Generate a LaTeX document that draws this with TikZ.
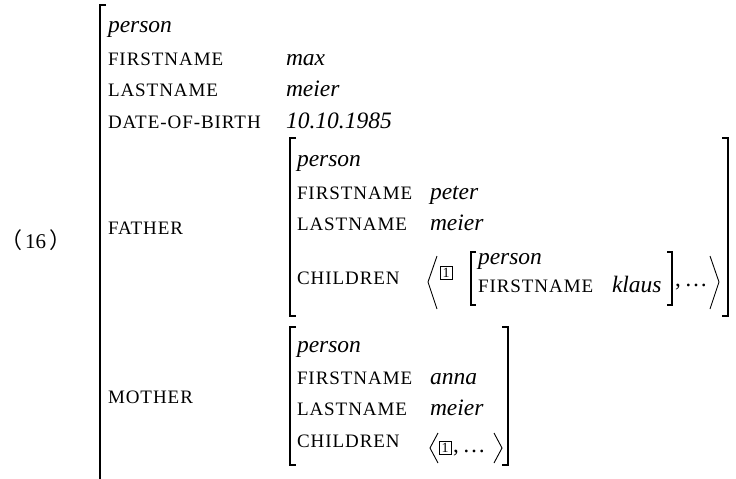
\documentclass[tikz,border=0pt]{standalone}
\usepackage{fontspec}
\setmainfont{Liberation Serif}
\newfontfamily\capsfont[LetterSpace=5]{Liberation Serif}
\newfontfamily\cjk{Noto Sans CJK SC}
\begin{document}
\begin{tikzpicture}[x=1pt,y=-1pt,
  base/.style={anchor=base west, inner sep=0pt, outer sep=0pt},
  attr/.style={base, font=\capsfont\fontsize{19}{23}\selectfont},
  val/.style={base, font=\fontsize{23.5}{27}\selectfont\itshape},
  brk/.style={line width=1.3pt},
  ang/.style={line width=0.9pt},
  tag/.style={draw, line width=0.6pt, inner sep=0pt, minimum width=12pt, minimum height=13pt, font=\fontsize{14}{16}\selectfont}
]
\useasboundingbox (0,0) rectangle (736,479);

% example number
\node[base, font=\fontsize{21}{25}\selectfont] (num) at (0,248)
  {{\cjk\fontsize{22}{26}\selectfont （}\kern3pt 16\kern3pt{\cjk\fontsize{22}{26}\selectfont ）}};

% outer AVM
\draw[brk] (106,5) -- (100,5) -- (100,485);
\node[val]  (p0)  at (108,32) {person};
\node[attr] (fn0) at (108,65) {FIRSTNAME};
\node[val]  (fv0) at (286,65) {max};
\node[attr] (ln0) at (108,96) {LASTNAME};
\node[val]  (lv0) at (286,96) {meier};
\node[attr] (db0) at (108,128) {DATE-OF-BIRTH};
\node[val]  (dv0) at (286,128) {10.10.1985};
\node[attr] (fa)  at (108,234) {FATHER};
\node[attr] (mo)  at (108,403) {MOTHER};

% father AVM
\draw[brk] (296,138) -- (290,138) -- (290,316) -- (296,316);
\draw[brk] (722,138) -- (728,138) -- (728,316) -- (722,316);
\node[val]  (p1)  at (297,166) {person};
\node[attr] (fn1) at (297,199) {FIRSTNAME};
\node[val]  (fv1) at (430,199) {peter};
\node[attr] (ln1) at (297,230) {LASTNAME};
\node[val]  (lv1) at (430,230) {meier};
\node[attr] (ch1) at (297,284) {CHILDREN};
\draw[ang] (437,256) -- (428,282) -- (437,309);
\node[tag] (t1) at (446,273) {1};
\draw[brk] (476,252) -- (471,252) -- (471,305) -- (476,305);
\node[val]  (p2)  at (478,264) {person};
\node[attr] (fn2) at (478,292) {FIRSTNAME};
\node[val]  (fv2) at (612,292) {klaus};
\draw[brk] (667,252) -- (672,252) -- (672,305) -- (667,305);
\node[base, font=\fontsize{23}{27}\selectfont] (dots1) at (675,286) {,\,\ldots};
\draw[ang] (710,256) -- (719,282) -- (710,309);

% mother AVM
\draw[brk] (296,327) -- (290,327) -- (290,465) -- (296,465);
\draw[brk] (502,327) -- (508,327) -- (508,465) -- (502,465);
\node[val]  (p3)  at (297,352) {person};
\node[attr] (fn3) at (297,384) {FIRSTNAME};
\node[val]  (fv3) at (430,384) {anna};
\node[attr] (ln3) at (297,415) {LASTNAME};
\node[val]  (lv3) at (430,415) {meier};
\node[attr] (ch3) at (297,447) {CHILDREN};
\draw[ang] (438,433) -- (430,448) -- (438,463);
\node[tag] (t2) at (445,448) {1};
\node[base, font=\fontsize{23}{27}\selectfont] (dots2) at (453,452) {,\,\ldots};
\draw[ang] (494,433) -- (502,448) -- (494,463);
\end{tikzpicture}
\end{document}
